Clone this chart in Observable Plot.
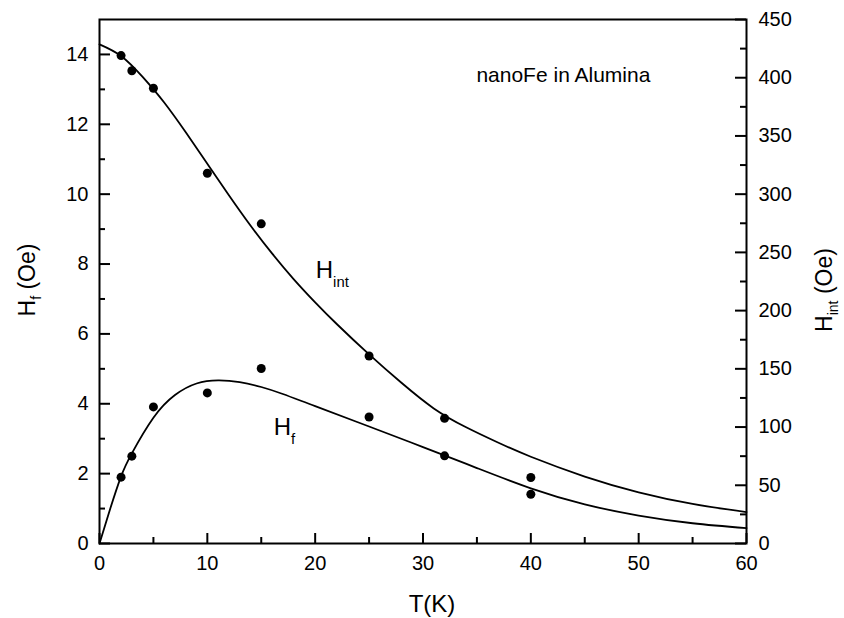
<!DOCTYPE html>
<html><head><meta charset="utf-8">
<script src="https://cdn.jsdelivr.net/npm/d3@7"></script>
<script src="https://cdn.jsdelivr.net/npm/@observablehq/plot@0.6"></script>
<style>
body{margin:0;background:#fff;}
#chart svg{font-family:"Liberation Sans",Arial,Helvetica,sans-serif;}
</style>
</head><body><div id="chart"></div>
<script>
// measured points
const T_pts = [2, 3, 5, 10, 15, 25, 32, 40];
const Hf_pts = [1.9, 2.5, 3.91, 4.31, 5.01, 3.62, 2.51, 1.41];          // left axis, Oe
const Hint_pts = [419, 406, 391, 318, 274.5, 161, 107.5, 56.7];        // right axis, Oe
// fitted curves
const T_fitHint = [0, 2, 4, 6, 8, 10, 12, 14, 16, 18, 20, 22, 25, 28, 31, 34, 37, 40, 45, 50, 55, 60];
const Hint_fit = [428.7, 418.7, 400.7, 378.7, 353.1, 326.1, 299.1, 273.1, 249.1, 227.1, 207.1, 188.5, 162.4, 138, 116, 99.8, 86.5, 74.5, 57.5, 44, 34, 27];
const T_fitHf = [0, 1, 2, 3, 5, 7, 9, 11, 13, 15, 17, 20, 25, 30, 35, 40, 45, 50, 55, 60];
const Hf_fit = [0, 1.0, 1.92, 2.58, 3.6, 4.25, 4.58, 4.67, 4.62, 4.48, 4.28, 3.93, 3.35, 2.76, 2.16, 1.58, 1.12, 0.8, 0.58, 0.44];
// ticks
const xTicks = [0, 10, 20, 30, 40, 50, 60];
const xMinor = [5, 15, 25, 35, 45, 55];
const leftTicks = [0, 2, 4, 6, 8, 10, 12, 14];
const leftMinor = [1, 3, 5, 7, 9, 11, 13];
const rightTicks = [0, 50, 100, 150, 200, 250, 300, 350, 400, 450];
const rightMinor = [25, 75, 125, 175, 225, 275, 325, 375, 425];
const RATIO = 30; // right-axis Oe per left-axis Oe (450 / 15)

const W = 844, H = 618, mL = 99, mR = 98, mT = 19, mB = 75;
const iw = W - mL - mR, ih = H - mT - mB;
const FS = 20;

const pts = T_pts.map((t, i) => ({t, hf: Hf_pts[i], hint: Hint_pts[i]}));
const fitHint = T_fitHint.map((t, i) => ({t, v: Hint_fit[i]}));
const fitHf = T_fitHf.map((t, i) => ({t, v: Hf_fit[i]}));

const plot = Plot.plot({
  width: W, height: H,
  marginLeft: mL, marginRight: mR, marginTop: mT, marginBottom: mB,
  x: {domain: [0, 60]},
  y: {domain: [0, 15]},
  style: {background: "#fff", color: "#000"},
  marks: [
    Plot.line(fitHint, {x: "t", y: d => d.v / RATIO, curve: "natural", stroke: "#000", strokeWidth: 1.8}),
    Plot.line(fitHf, {x: "t", y: "v", curve: "natural", stroke: "#000", strokeWidth: 1.8}),
    Plot.dot(pts, {x: "t", y: "hf", r: 4.5, fill: "#000", stroke: "none"}),
    Plot.dot(pts, {x: "t", y: d => d.hint / RATIO, r: 4.5, fill: "#000", stroke: "none"}),
    Plot.tickX(xTicks, {x: d => d, insetTop: ih - 10, stroke: "#000", strokeWidth: 2}),
    Plot.tickX(xMinor, {x: d => d, insetTop: ih - 6, stroke: "#000", strokeWidth: 2}),
    Plot.tickY(leftTicks, {y: d => d, insetRight: iw - 11, stroke: "#000", strokeWidth: 2}),
    Plot.tickY(leftMinor, {y: d => d, insetRight: iw - 6, stroke: "#000", strokeWidth: 2}),
    Plot.tickY(rightTicks, {y: d => d / RATIO, insetLeft: iw - 11, stroke: "#000", strokeWidth: 2}),
    Plot.tickY(rightMinor, {y: d => d / RATIO, insetLeft: iw - 6, stroke: "#000", strokeWidth: 2}),
    Plot.frame({stroke: "#000", strokeWidth: 2}),
    Plot.axisX({ticks: xTicks, tickSize: 0, tickPadding: 12, fontSize: FS, label: null}),
    Plot.axisY({anchor: "left", ticks: leftTicks, tickSize: 0, tickPadding: 11, fontSize: FS, label: null}),
    Plot.axisY({anchor: "right", ticks: rightTicks.map(v => v / RATIO), tickFormat: v => String(Math.round(v * RATIO)), tickSize: 0, tickPadding: 12, fontSize: FS, label: null})
  ]
});
document.getElementById("chart").appendChild(plot);

// annotations and axis titles (real text with subscripts)
const svg = d3.select(plot);
const sx = plot.scale("x"), sy = plot.scale("y");
const annot = [
  {t: 35.0, y: 13.2, main: "nanoFe in Alumina", sub: "", fs: 21},
  {t: 20.1, y: 7.6, main: "H", sub: "int", fs: 24},
  {t: 16.2, y: 3.1, main: "H", sub: "f", fs: 24}
];
for (const a of annot) {
  const tx = svg.append("text")
    .attr("x", sx.apply(a.t)).attr("y", sy.apply(a.y))
    .attr("text-anchor", "start")
    .attr("font-size", a.fs).attr("fill", "#000");
  tx.append("tspan").text(a.main);
  if (a.sub) tx.append("tspan").attr("dy", a.fs * 0.38).attr("font-size", a.fs * 0.62).text(a.sub);
}
// x title
svg.append("text").attr("x", 432).attr("y", 612).attr("text-anchor", "middle")
  .attr("font-size", 24).attr("fill", "#000").text("T(K)");
// left title
const lt = svg.append("text").attr("transform", "translate(35,280) rotate(-90)")
  .attr("text-anchor", "middle").attr("font-size", 23).attr("fill", "#000");
lt.append("tspan").text("H");
lt.append("tspan").attr("dy", 6).attr("font-size", 14).text("f");
lt.append("tspan").attr("dy", -6).text(" (Oe)");
// right title
const rt = svg.append("text").attr("transform", "translate(832,290) rotate(-90)")
  .attr("text-anchor", "middle").attr("font-size", 23).attr("fill", "#000");
rt.append("tspan").text("H");
rt.append("tspan").attr("dy", 6).attr("font-size", 14).text("int");
rt.append("tspan").attr("dy", -6).text(" (Oe)");
</script>
</body></html>
